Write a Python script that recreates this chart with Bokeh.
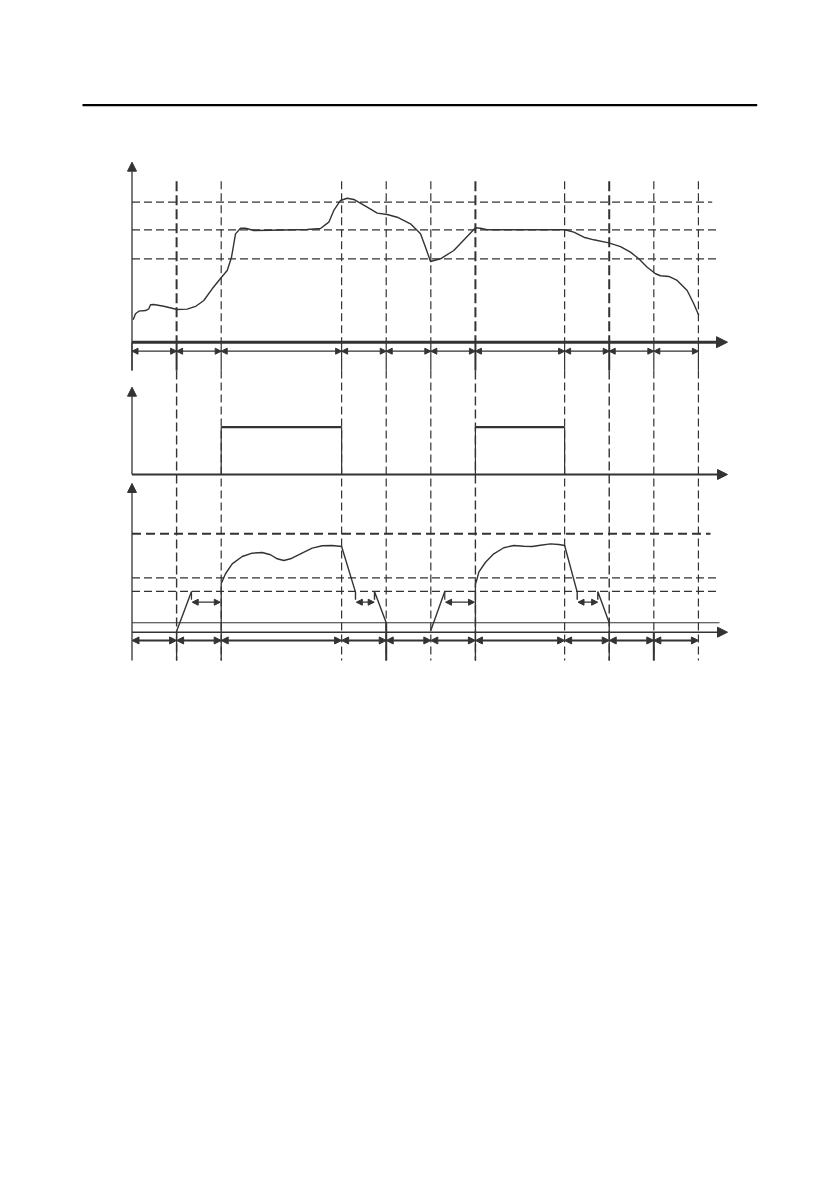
from bokeh.plotting import figure
from bokeh.models import Range1d, Arrow, NormalHead, ColumnDataSource
from bokeh.embed import file_html
from bokeh.resources import INLINE

# ---------------- data (time in phase units; levels in panel units) ----------------
phase_bounds = [0, 1, 2, 4.7, 5.7, 6.7, 7.7, 9.7, 10.7, 11.7, 12.7]
heavy_bounds = [1, 7.7, 10.7]

# panel 1: speed curve (100 = reference level)
speed_levels = [74.2, 100, 124.6]
speed_t = [0.027, 0.078, 0.152, 0.303, 0.377, 0.415, 0.489, 0.713, 1.013, 1.238, 1.424,
           1.610, 1.798, 2.007, 2.135, 2.231, 2.321, 2.433, 2.545, 2.731, 3.105, 3.928,
           4.226, 4.413, 4.525, 4.675, 4.825, 4.973, 5.274, 5.498, 5.722, 5.946, 6.244,
           6.469, 6.581, 6.693, 6.917, 7.215, 7.702, 7.814, 7.964, 9.704, 9.906, 10.130,
           10.354, 10.691, 10.953, 11.177, 11.363, 11.552, 11.738, 11.850, 12.036, 12.224,
           12.448, 12.596, 12.709]
speed_v = [19.9, 25.3, 27.6, 28.2, 29.7, 33.3, 33.5, 32.0, 29.1, 29.4, 31.8,
           37.1, 47.5, 57.8, 63.8, 75.6, 96.4, 101.4, 101.4, 99.4, 99.6, 100.3,
           101.2, 106.8, 117.2, 126.1, 128.1, 127.0, 120.1, 114.8, 113.6, 111.2, 105.3,
           96.4, 84.5, 71.8, 74.2, 81.6, 101.8, 101.4, 100.0, 100.0, 97.9, 93.4,
           91.1, 88.4, 85.1, 80.1, 74.2, 66.7, 60.9, 59.1, 58.5, 54.9,
           46.0, 34.2, 23.8]

# panel 2: run command pulses
pulse_start = [2, 7.7]
pulse_end = [4.7, 9.7]
pulse_level = 1

# panel 3: torque / current
torque_limit = 100
torque_levels = [41.4, 55.3]
torque_floor = 9.6
ramp_t = [[1.0, 1.334], [6.693, 7.013]]
ramp_v = [[1.0, 41.4], [1.0, 41.4]]
run_t = [[2.0, 2.022, 2.096, 2.247, 2.471, 2.695, 2.919, 3.105, 3.256, 3.404, 3.554, 3.778,
          4.040, 4.265, 4.489, 4.7, 5.011, 5.011],
         [7.7, 7.724, 7.776, 7.926, 8.112, 8.336, 8.561, 8.785, 8.973, 9.159, 9.383, 9.570,
          9.7, 9.982, 9.982]]
run_v = [[50.0, 51.5, 59.4, 69.5, 76.9, 80.3, 81.0, 78.7, 74.6, 72.9, 74.6, 79.7,
          85.4, 87.8, 88.1, 87.1, 40.7, 33.0],
         [49.2, 52.0, 61.0, 71.1, 79.7, 85.8, 88.1, 87.4, 87.1, 88.4, 89.8, 89.1,
          88.1, 40.7, 33.0]]
stop_t = [[5.437, 5.437, 5.7], [10.444, 10.444, 10.7]]
stop_v = [[33.0, 41.4, 9.6], [33.0, 41.4, 9.6]]
hold_start = [1.35, 5.03, 7.03, 10.0]
hold_end = [1.98, 5.43, 7.68, 10.44]
hold_level = 30.5
drop_t = [1, 2, 5.7, 7.7, 10.7, 11.7]
drop_top = [0, 50.0, 9.6, 49.2, 9.6, 0]
drop_w = [1.3, 1.3, 2.0, 1.3, 1.3, 2.0]

# ---------------- layout (page pixels) ----------------
INK = "#333333"
LEFT, RIGHT, TOP, BOTTOM = 0, 831, 0, 688
T0, K = 131.5, 44.6
SPEED_B, SPEED_S = 341.7, 1.124
PULSE_B, PULSE_S = 474.0, 47.3
TORQ_B, TORQ_S = 631.7, 0.984


def prange(b, s):
    return Range1d(start=-(BOTTOM - b) / s, end=(b - TOP) / s)


def tx(px):
    return (px - T0) / K


p = figure(width=RIGHT - LEFT, height=BOTTOM - TOP, output_backend="svg",
           toolbar_location=None, x_range=Range1d(tx(LEFT), tx(RIGHT)),
           y_range=Range1d(BOTTOM, TOP), min_border=0)
p.axis.visible = False
p.grid.visible = False
p.outline_line_color = None
p.background_fill_color = "white"
p.border_fill_color = "white"
p.extra_y_ranges = {"speed": prange(SPEED_B, SPEED_S),
                    "pulse": prange(PULSE_B, PULSE_S),
                    "torque": prange(TORQ_B, TORQ_S)}

# header rule
p.segment(x0=[tx(82)], y0=[104.7], x1=[tx(756.7)], y1=[104.7], line_color="black", line_width=2.3)

# vertical phase guides
thin = [b for b in phase_bounds[1:] if b not in heavy_bounds]
p.segment(x0=thin, y0=[180.7] * len(thin), x1=thin, y1=[SPEED_B] * len(thin),
          line_color=INK, line_width=1.2, line_dash="8 4")
p.segment(x0=heavy_bounds, y0=[180.7] * 3, x1=heavy_bounds, y1=[SPEED_B] * 3,
          line_color=INK, line_width=2.0, line_dash="10 4")
p.segment(x0=thin, y0=[370] * len(thin), x1=thin, y1=[660] * len(thin),
          line_color=INK, line_width=1.2, line_dash="8 4")
p.segment(x0=heavy_bounds, y0=[370] * 3, x1=heavy_bounds, y1=[660] * 3,
          line_color=INK, line_width=1.4, line_dash="9 4")
bw = [2.0 if b in heavy_bounds else 1.2 for b in phase_bounds]
p.segment(x0=phase_bounds, y0=[SPEED_B] * len(phase_bounds), x1=phase_bounds,
          y1=[370] * len(phase_bounds), line_color=INK, line_width=bw)

# ---------- panel 1: speed ----------
lv = speed_levels
p.segment(x0=[0] * 3, y0=lv, x1=[tx(716.7), tx(716.7), tx(711.7)], y1=lv,
          y_range_name="speed", line_color=INK, line_width=1.2, line_dash="8 4")
p.line(speed_t, speed_v, y_range_name="speed", line_color=INK, line_width=1.4, line_join="round")

# axes
p.add_layout(Arrow(end=NormalHead(size=9, fill_color=INK, line_color=INK), x_start=0, y_start=370,
                   x_end=0, y_end=161.7, line_color=INK, line_width=1.3))
p.add_layout(Arrow(end=NormalHead(size=11, fill_color=INK, line_color=INK), x_start=0, y_start=0,
                   x_end=tx(727), y_end=0, y_range_name="speed", line_color=INK, line_width=3))

row = ColumnDataSource(dict(x0=phase_bounds[:-1], x1=phase_bounds[1:],
                            y=[-8.0] * (len(phase_bounds) - 1)))
p.add_layout(Arrow(start=NormalHead(size=6, fill_color=INK, line_color=INK),
                   end=NormalHead(size=6, fill_color=INK, line_color=INK),
                   x_start="x0", x_end="x1", y_start="y", y_end="y", source=row,
                   y_range_name="speed", line_color=INK, line_width=1.2))

# ---------- panel 2: run pulses ----------
p.add_layout(Arrow(end=NormalHead(size=9, fill_color=INK, line_color=INK), x_start=0, y_start=0,
                   x_end=0, y_end=(PULSE_B - 386.7) / PULSE_S, y_range_name="pulse",
                   line_color=INK, line_width=1.3))
p.add_layout(Arrow(end=NormalHead(size=10, fill_color=INK, line_color=INK), x_start=0, y_start=0,
                   x_end=tx(727), y_end=0, y_range_name="pulse", line_color=INK, line_width=2.2))
n = len(pulse_start)
p.segment(x0=pulse_start, y0=[pulse_level] * n, x1=pulse_end, y1=[pulse_level] * n,
          y_range_name="pulse", line_color=INK, line_width=2.2)
p.segment(x0=pulse_start + pulse_end, y0=[0] * (2 * n), x1=pulse_start + pulse_end,
          y1=[pulse_level] * (2 * n), y_range_name="pulse", line_color=INK, line_width=1.2)

# ---------- panel 3: torque ----------
p.add_layout(Arrow(end=NormalHead(size=9, fill_color=INK, line_color=INK), x_start=0,
                   y_start=(TORQ_B - 660) / TORQ_S, x_end=0, y_end=(TORQ_B - 483) / TORQ_S,
                   y_range_name="torque", line_color=INK, line_width=1.3))
p.segment(x0=[0], y0=[torque_limit], x1=[tx(710)], y1=[torque_limit], y_range_name="torque",
          line_color=INK, line_width=2.0, line_dash="9 5")
p.segment(x0=[0, 0], y0=torque_levels, x1=[tx(716.7)] * 2, y1=torque_levels,
          y_range_name="torque", line_color=INK, line_width=1.2, line_dash="8 4")
p.segment(x0=[0], y0=[torque_floor], x1=[tx(719)], y1=[torque_floor], y_range_name="torque",
          line_color=INK, line_width=1.2)
p.add_layout(Arrow(end=NormalHead(size=10, fill_color=INK, line_color=INK), x_start=0, y_start=0,
                   x_end=tx(727), y_end=0, y_range_name="torque", line_color=INK, line_width=1.4))

p.segment(x0=drop_t, y0=drop_top, x1=drop_t, y1=[(TORQ_B - 660) / TORQ_S] * len(drop_t),
          y_range_name="torque", line_color=INK, line_width=drop_w)

p.multi_line(ramp_t, ramp_v, y_range_name="torque", line_color=INK, line_width=1.4)
p.multi_line(run_t, run_v, y_range_name="torque", line_color=INK, line_width=1.4, line_join="round")
p.multi_line(stop_t, stop_v, y_range_name="torque", line_color=INK, line_width=1.4)
p.segment(x0=[ramp_t[0][1], ramp_t[1][1]], y0=[41.4, 41.4], x1=[ramp_t[0][1], ramp_t[1][1]],
          y1=[33.0, 33.0], y_range_name="torque", line_color=INK, line_width=1.2)

hold = ColumnDataSource(dict(x0=hold_start, x1=hold_end, y=[hold_level] * len(hold_start)))
p.add_layout(Arrow(start=NormalHead(size=6, fill_color=INK, line_color=INK),
                   end=NormalHead(size=6, fill_color=INK, line_color=INK),
                   x_start="x0", x_end="x1", y_start="y", y_end="y", source=hold,
                   y_range_name="torque", line_color=INK, line_width=1.2))

row2 = ColumnDataSource(dict(x0=phase_bounds[:-1], x1=phase_bounds[1:],
                             y=[-8.4] * (len(phase_bounds) - 1)))
p.add_layout(Arrow(start=NormalHead(size=7, fill_color=INK, line_color=INK),
                   end=NormalHead(size=7, fill_color=INK, line_color=INK),
                   x_start="x0", x_end="x1", y_start="y", y_end="y", source=row2,
                   y_range_name="torque", line_color=INK, line_width=2.0))

open("out.html", "w").write(file_html(p, INLINE))
